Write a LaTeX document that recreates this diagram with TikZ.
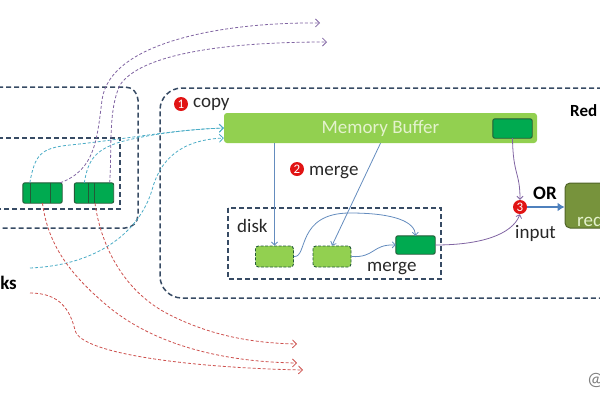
\documentclass[tikz,border=0pt]{standalone}
\usepackage{fontspec}
\setmainfont{Carlito}
\usetikzlibrary{arrows.meta}

\begin{document}
\begin{tikzpicture}[x=1pt,y=-1pt,
  every node/.style={font=\fontsize{19}{22}\selectfont,text=textcolor,inner sep=0pt},
  boxline/.style={draw=boxcolor,line width=1.5pt,dash pattern=on 5pt off 3pt},
  segment/.style={minimum width=39pt,minimum height=20pt},
  segline/.style={fill=segcolor,draw=segborder,line width=0.9pt},
  spill/.style={minimum width=38pt,minimum height=21pt,fill=lightgreen,draw=segborder,line width=0.9pt,dash pattern=on 3pt off 1.5pt,rounded corners=3pt},
  num/.style={circle,fill=numcolor,text=white,minimum size=14pt,font=\fontsize{13}{13}\selectfont},
  flow/.style={draw=flowcolor,line width=0.8pt,-{Straight Barb[length=3pt,width=6pt]}},
  pflow/.style={draw=purplecolor,line width=0.8pt,-{Straight Barb[length=3pt,width=6pt]}},
  cyanpath/.style={draw=cyancolor,line width=0.8pt,dash pattern=on 3pt off 2pt,-{Straight Barb[length=4pt,width=8pt]}},
  purplepath/.style={draw=purplecolor,line width=0.8pt,dash pattern=on 3pt off 2pt,-{Straight Barb[length=4pt,width=8pt]}},
  redpath/.style={draw=redcolor,line width=0.8pt,dash pattern=on 3pt off 2pt,-{Straight Barb[length=4pt,width=8pt]}}]
\definecolor{textcolor}{RGB}{40,40,40}
\definecolor{boxcolor}{RGB}{55,75,100}
\definecolor{segcolor}{RGB}{0,170,80}
\definecolor{segborder}{RGB}{35,90,55}
\definecolor{lightgreen}{RGB}{146,208,80}
\definecolor{buftext}{RGB}{228,242,205}
\definecolor{reducecolor}{RGB}{119,147,60}
\definecolor{reduceborder}{RGB}{80,100,40}
\definecolor{numcolor}{RGB}{225,20,20}
\definecolor{flowcolor}{RGB}{100,140,190}
\definecolor{bluearrow}{RGB}{79,129,189}
\definecolor{cyancolor}{RGB}{75,172,198}
\definecolor{purplecolor}{RGB}{128,100,162}
\definecolor{redcolor}{RGB}{205,80,77}
\useasboundingbox (0,0) rectangle (600,400);
\clip (0,0) rectangle (600,400);
\draw [boxline,rounded corners=13pt] (-10,87) -- (138,87) -- (138,228) -- (-10,228);
\draw [boxline] (-10,138) -- (120,138) -- (120,209) -- (-10,209);
\draw [boxline,rounded corners=22pt] (610,88) -- (160,88) -- (160,298) -- (610,298);
\draw [boxline] (228,208) rectangle (441,279);
\node [segment] (s1) at (42.5,193) {};
\node [segment] (s2) at (94,193) {};
\node [minimum width=313pt,minimum height=30pt,fill=lightgreen,rounded corners=3pt,text=buftext] (mb) at (380.5,128) {Memory Buffer};
\node [segment,minimum height=19pt] (m0) at (512.5,128.5) {};
\node [spill] (d1) at (274.5,256.5) {};
\node [spill] (d2) at (332,256.5) {};
\node [segment,minimum height=18pt] (d3) at (415.5,245) {};
\node [minimum width=44pt,minimum height=45pt,fill=reducecolor,draw=reduceborder,line width=1pt,rounded corners=5pt] (rd) at (587,205.5) {};
\foreach \n in {s1,s2,m0,d3}
  \draw [segline] (\n.north) [rounded corners=2pt] -- (\n.north west) -- (\n.south west) -- (\n.south east) -- (\n.north east) [rounded corners=6pt] -- cycle;
\draw [segborder,line width=0.8pt] ([xshift=8pt]s1.south west) -- ([xshift=8pt]s1.north west);
\draw [segborder,line width=0.8pt] ([xshift=28pt]s1.south west) -- ([xshift=28pt]s1.north west);
\draw [segborder,line width=0.8pt] ([xshift=14pt]s2.south west) -- ([xshift=14pt]s2.north west);
\draw [segborder,line width=0.8pt] ([xshift=20pt]s2.south west) -- ([xshift=20pt]s2.north west);
\node [num] (n1) at (181,104) {1};
\node [anchor=base west] (copy) at (193,107) {copy};
\node [num] (n2) at (297,169) {2};
\node [anchor=base west] (merge1) at (309,175) {merge};
\node [anchor=base west] (disk) at (237,232) {disk};
\node [anchor=base west] (merge2) at (367,271) {merge};
\node [num] (n3) at (520,207) {3};
\node [anchor=base west,font=\fontsize{19}{22}\selectfont\bfseries,text=black] (or) at (533,199) {OR};
\node [anchor=base west] (input) at (515,238) {input};
\node [anchor=base west,font=\fontsize{17}{20}\selectfont\bfseries,text=black] (redlabel) at (570,116) {Red};
\node [anchor=base west,text=buftext] (rdtext) at (577,226) {red};
\node [anchor=base east,font=\fontsize{19}{22}\selectfont\bfseries,text=black] (ks) at (17,289) {ks};
\node [anchor=base west,text=gray] (at) at (587,385) {@};
\coordinate (c3s) at (30,268);
\coordinate (pt1) at (320,23);
\coordinate (pt2) at (327,42);
\coordinate (r3s) at (30,293);
\coordinate (rt1) at (297,363);
\coordinate (rt2) at (297,344);
\coordinate (rt3) at (303,370);
\draw [flow] (d1.north |- mb.south) -- (d1.north);
\draw [flow] (mb.south) -- (d2.north);
\draw [flow] (d1.east) .. controls (308,258) and (296,213) .. (350,213) .. controls (395,213) and (415,222) .. (d3.north);
\draw [flow] (d2.east) .. controls (375,258) and (372,244) .. (d3.west);
\draw [pflow] (d3.east) .. controls (480,245) and (512,235) .. (n3.south);
\draw [pflow] (m0.south) .. controls (513,175) and (520,172) .. (n3.north);
\draw [bluearrow,line width=2.2pt,-{Latex[length=7pt,width=9pt]}] (n3.east) -- (rd.west |- n3.east);
\draw [cyanpath] ([xshift=7pt]s1.north west) .. controls (35,155) and (40,148) .. (70,145) .. controls (120,140) and (170,130) .. (mb.west);
\draw [cyanpath] ([xshift=10pt]s2.north west) .. controls (88,160) and (95,150) .. (120,142) .. controls (150,134) and (190,129) .. (mb.west);
\draw [cyanpath] (c3s) .. controls (100,265) and (140,230) .. (152,190) .. controls (160,160) and (180,140) .. ([yshift=-10pt]mb.west);
\draw [purplepath] ([xshift=-2pt]s1.north east) .. controls (95,170) and (97,140) .. (102,100) .. controls (110,40) and (230,22) .. (pt1);
\draw [purplepath] ([xshift=-4pt]s2.north east) .. controls (112,150) and (108,110) .. (120,85) .. controls (140,55) and (220,42) .. (pt2);
\draw [redpath] (s1.south) .. controls (48,245) and (70,275) .. (110,308) .. controls (160,348) and (230,362) .. (rt1);
\draw [redpath] ([xshift=1pt]s2.south) .. controls (100,240) and (120,290) .. (170,315) .. controls (210,335) and (250,343) .. (rt2);
\draw [redpath] (r3s) .. controls (60,293) and (70,310) .. (75,330) .. controls (80,355) and (200,368) .. (rt3);
\end{tikzpicture}
\end{document}
